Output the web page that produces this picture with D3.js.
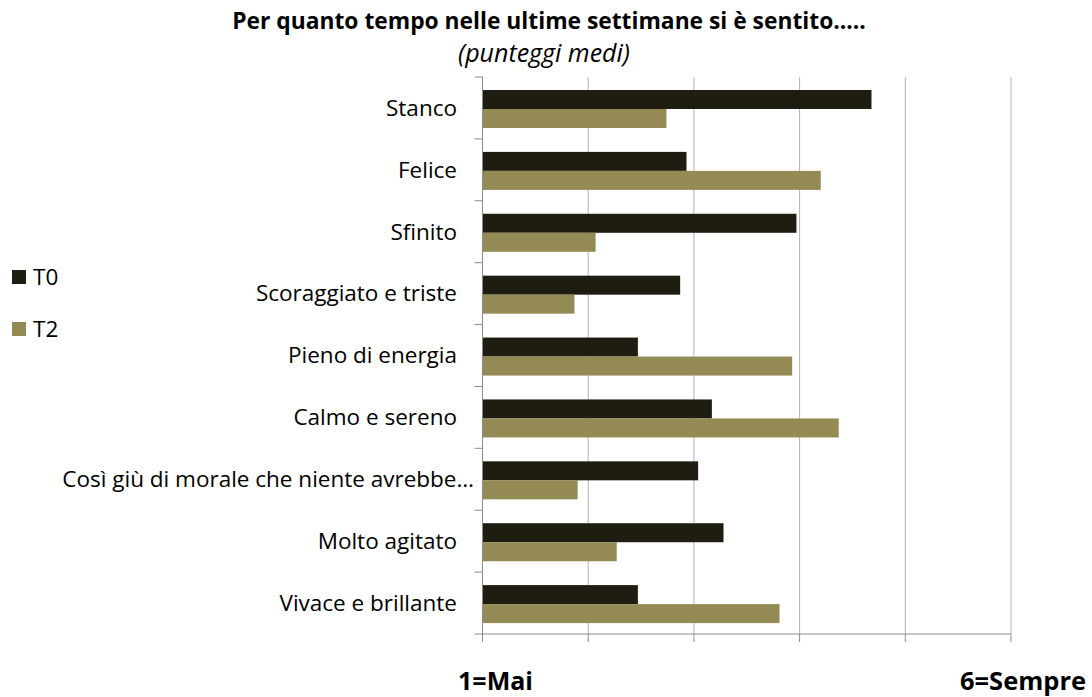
<!DOCTYPE html>
<html>
<head>
<meta charset="utf-8">
<script src="https://cdn.jsdelivr.net/npm/d3@7"></script>
<style>
  body { margin: 0; background: #fff; }
  svg text { font-family: "Open Sans", "Noto Sans", sans-serif; fill: #000; }
</style>
</head>
<body>
<div id="chart"></div>
<script>
const categories = ["Stanco", "Felice", "Sfinito", "Scoraggiato e triste", "Pieno di energia",
  "Calmo e sereno", "Così giù di morale che niente avrebbe…", "Molto agitato", "Vivace e brillante"];
const seriesNames = ["T0", "T2"];
const t0 = [4.68, 2.93, 3.97, 2.87, 2.47, 3.17, 3.04, 3.28, 2.47];
const t2 = [2.74, 4.20, 2.07, 1.87, 3.93, 4.37, 1.90, 2.27, 3.81];
const xTicks = [1, 2, 3, 4, 5, 6];
const endLabels = ["1=Mai", "6=Sempre"];

const width = 1092, height = 697;
const colors = ["#1f1d12", "#948a54"];

const svg = d3.select("#chart").append("svg")
  .attr("width", width).attr("height", height);

const x = d3.scaleLinear().domain([1, 6]).range([482.5, 1011]);
const y = d3.scaleBand().domain(categories).range([77, 634]).paddingInner(0).paddingOuter(0);
const inner = d3.scaleBand().domain(seriesNames).range([13, 51]);

// gridlines
svg.append("g").selectAll("line")
  .data(xTicks.slice(1))
  .enter().append("line")
  .attr("x1", d => x(d)).attr("x2", d => x(d))
  .attr("y1", 77).attr("y2", 634)
  .attr("stroke", "#b3b3b3").attr("stroke-width", 1);

// bars
const rows = categories.map((c, i) => ({ cat: c, vals: [t0[i], t2[i]] }));
const group = svg.append("g").selectAll("g")
  .data(rows).enter().append("g")
  .attr("transform", d => "translate(0," + y(d.cat) + ")");
group.selectAll("rect")
  .data(d => d.vals.map((v, k) => ({ name: seriesNames[k], v: v, k: k })))
  .enter().append("rect")
  .attr("x", x(1))
  .attr("y", d => inner(d.name))
  .attr("width", d => x(d.v) - x(1))
  .attr("height", inner.bandwidth())
  .attr("fill", d => colors[d.k]);

// y axis line and ticks
svg.append("line")
  .attr("x1", x(1)).attr("x2", x(1)).attr("y1", 77).attr("y2", 634)
  .attr("stroke", "#8c8c8c");
svg.append("g").selectAll("line")
  .data(d3.range(categories.length + 1))
  .enter().append("line")
  .attr("x1", x(1) - 8).attr("x2", x(1))
  .attr("y1", i => 77 + i * y.step()).attr("y2", i => 77 + i * y.step())
  .attr("stroke", "#8c8c8c");

// x axis
svg.append("line")
  .attr("x1", x(1)).attr("x2", x(6)).attr("y1", 634).attr("y2", 634)
  .attr("stroke", "#8c8c8c");
svg.append("g").selectAll("line")
  .data(xTicks)
  .enter().append("line")
  .attr("x1", d => x(d)).attr("x2", d => x(d))
  .attr("y1", 634).attr("y2", 642)
  .attr("stroke", "#8c8c8c");

// category labels (the truncated one sits closer to the axis)
svg.append("g").selectAll("text")
  .data(categories)
  .enter().append("text")
  .attr("x", d => d.endsWith("…") ? 474 : 457)
  .attr("y", d => y(d) + y.bandwidth() / 2)
  .attr("dy", "0.35em")
  .attr("text-anchor", "end")
  .style("font-size", "22.5px")
  .text(d => d);

// titles
svg.append("text")
  .attr("x", 549).attr("y", 29)
  .attr("text-anchor", "middle")
  .style("font-size", "22.8px").style("font-weight", "bold")
  .text("Per quanto tempo nelle ultime settimane si è sentito.....");
svg.append("text")
  .attr("x", 544).attr("y", 62)
  .attr("text-anchor", "middle")
  .style("font-size", "25px").style("font-style", "italic")
  .text("(punteggi medi)");

// end labels
svg.append("text")
  .attr("x", x(1) + 13).attr("y", 690)
  .attr("text-anchor", "middle")
  .style("font-size", "25px").style("font-weight", "bold")
  .text(endLabels[0]);
svg.append("text")
  .attr("x", x(6) + 12).attr("y", 690)
  .attr("text-anchor", "middle")
  .style("font-size", "25.5px").style("font-weight", "bold")
  .text(endLabels[1]);

// legend
const legend = svg.append("g").selectAll("g")
  .data(seriesNames).enter().append("g")
  .attr("transform", (d, i) => "translate(12," + (270 + i * 52) + ")");
legend.append("rect")
  .attr("width", 14).attr("height", 14)
  .attr("fill", (d, i) => colors[i]);
legend.append("text")
  .attr("x", 21).attr("y", 7).attr("dy", "0.35em")
  .style("font-size", "22.5px")
  .text(d => d);
</script>
</body>
</html>
